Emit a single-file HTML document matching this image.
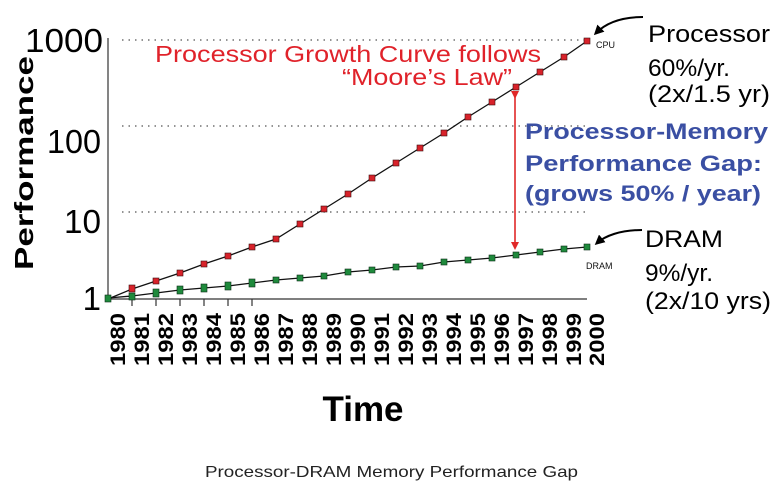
<!DOCTYPE html>
<html><head><meta charset="utf-8"><style>
html,body{margin:0;padding:0;background:#fff;}
svg{display:block;font-family:"Liberation Sans",Arial,sans-serif;}
</style></head><body>
<svg width="781" height="496" viewBox="0 0 781 496" xmlns="http://www.w3.org/2000/svg">
<defs>
<marker id="ah" markerWidth="8" markerHeight="8" refX="6" refY="4" orient="auto" markerUnits="userSpaceOnUse"><path d="M0,0 L8,4 L0,8 Z" fill="#e02828"/></marker>
<marker id="bk" markerWidth="10" markerHeight="10" refX="7" refY="5" orient="auto" markerUnits="userSpaceOnUse"><path d="M0,0 L10,5 L0,10 Z" fill="#000"/></marker>
</defs>
<g stroke="#555" stroke-width="1.2" stroke-dasharray="1.5,5">
<line x1="122" y1="40" x2="587" y2="40"/>
<line x1="122" y1="126" x2="587" y2="126"/>
<line x1="122" y1="212" x2="587" y2="212"/>
</g>
<line x1="108" y1="38" x2="108" y2="299" stroke="#333" stroke-width="1.2"/>
<line x1="108" y1="299" x2="587" y2="299" stroke="#333" stroke-width="1.2"/>
<g stroke="#333" stroke-width="1.2">
<line x1="132" y1="299" x2="132" y2="306"/><line x1="156" y1="299" x2="156" y2="306"/>
<line x1="180" y1="299" x2="180" y2="306"/><line x1="204" y1="299" x2="204" y2="306"/>
<line x1="228" y1="299" x2="228" y2="306"/><line x1="252" y1="299" x2="252" y2="306"/>
</g>
<polyline fill="none" stroke="#111" stroke-width="1.3" points="108,299 132,289 156,281 180,273 204,264 228,256 252,247 276,239 300,224 324,209 348,194 372,178 396,163 420,148 444,133 468,117 492,102 516,87 540,72 564,57 587,41"/>
<polyline fill="none" stroke="#111" stroke-width="1.3" points="108,298 132,296 156,293 180,290 204,288 228,286 252,283 276,280 300,278 324,276 348,272 372,270 396,267 420,266 444,262 468,260 492,258 516,255 540,252 564,249 587,247"/>
<g fill="#d8222a" stroke="#3a1010" stroke-width="0.6">
<rect x="129" y="285" width="6" height="7"/><rect x="153" y="278" width="6" height="6"/><rect x="177" y="270" width="6" height="6"/><rect x="201" y="261" width="6" height="6"/><rect x="225" y="253" width="6" height="6"/><rect x="249" y="244" width="6" height="6"/><rect x="273" y="236" width="6" height="6"/><rect x="297" y="221" width="6" height="6"/><rect x="321" y="206" width="6" height="6"/><rect x="345" y="191" width="6" height="6"/><rect x="369" y="175" width="6" height="6"/><rect x="393" y="160" width="6" height="6"/><rect x="417" y="145" width="6" height="6"/><rect x="441" y="130" width="6" height="6"/><rect x="465" y="114" width="6" height="6"/><rect x="489" y="99" width="6" height="6"/><rect x="513" y="84" width="6" height="6"/><rect x="537" y="69" width="6" height="6"/><rect x="561" y="54" width="6" height="6"/><rect x="584" y="38" width="6" height="6"/>
</g>
<g fill="#1f8a3c" stroke="#0d3018" stroke-width="0.6">
<rect x="105" y="295" width="6" height="7"/><rect x="129" y="293" width="6" height="7"/><rect x="153" y="289" width="6" height="8"/><rect x="177" y="286" width="6" height="8"/><rect x="201" y="284" width="6" height="8"/><rect x="225" y="282" width="6" height="8"/><rect x="249" y="279" width="6" height="8"/><rect x="273" y="277" width="6" height="6"/><rect x="297" y="275" width="6" height="6"/><rect x="321" y="273" width="6" height="6"/><rect x="345" y="269" width="6" height="6"/><rect x="369" y="267" width="6" height="6"/><rect x="393" y="264" width="6" height="6"/><rect x="417" y="263" width="6" height="6"/><rect x="441" y="259" width="6" height="6"/><rect x="465" y="257" width="6" height="6"/><rect x="489" y="255" width="6" height="6"/><rect x="513" y="252" width="6" height="6"/><rect x="537" y="249" width="6" height="6"/><rect x="561" y="246" width="6" height="6"/><rect x="584" y="244" width="6" height="6"/>
</g>
<line x1="515" y1="97" x2="515" y2="248" stroke="#e02828" stroke-width="1.6" marker-start="url(#ah)" marker-end="url(#ah)"/>
<path d="M643,17 C620,17 605,24 596,33" fill="none" stroke="#000" stroke-width="2" marker-end="url(#bk)"/>
<path d="M642,230 C620,230 605,236 597,243" fill="none" stroke="#000" stroke-width="2" marker-end="url(#bk)"/>
<g font-size="33" fill="#000">
<text x="103" y="52" text-anchor="end" textLength="78" lengthAdjust="spacingAndGlyphs">1000</text>
<text x="101" y="153" text-anchor="end" textLength="54" lengthAdjust="spacingAndGlyphs">100</text>
<text x="101" y="233" text-anchor="end" textLength="37" lengthAdjust="spacingAndGlyphs">10</text>
<text x="101" y="310" text-anchor="end">1</text>
</g>
<text transform="translate(33,270) rotate(-90)" font-size="26" font-weight="bold" textLength="214" lengthAdjust="spacingAndGlyphs">Performance</text>
<g font-size="21" font-weight="bold" fill="#000" text-anchor="end">
<text transform="translate(125,313) rotate(-90)" textLength="53" lengthAdjust="spacingAndGlyphs">1980</text>
<text transform="translate(149,313) rotate(-90)" textLength="53" lengthAdjust="spacingAndGlyphs">1981</text>
<text transform="translate(173,313) rotate(-90)" textLength="53" lengthAdjust="spacingAndGlyphs">1982</text>
<text transform="translate(197,313) rotate(-90)" textLength="53" lengthAdjust="spacingAndGlyphs">1983</text>
<text transform="translate(221,313) rotate(-90)" textLength="53" lengthAdjust="spacingAndGlyphs">1984</text>
<text transform="translate(245,313) rotate(-90)" textLength="53" lengthAdjust="spacingAndGlyphs">1985</text>
<text transform="translate(269,313) rotate(-90)" textLength="53" lengthAdjust="spacingAndGlyphs">1986</text>
<text transform="translate(293,313) rotate(-90)" textLength="53" lengthAdjust="spacingAndGlyphs">1987</text>
<text transform="translate(317,313) rotate(-90)" textLength="53" lengthAdjust="spacingAndGlyphs">1988</text>
<text transform="translate(341,313) rotate(-90)" textLength="53" lengthAdjust="spacingAndGlyphs">1989</text>
<text transform="translate(365,313) rotate(-90)" textLength="53" lengthAdjust="spacingAndGlyphs">1990</text>
<text transform="translate(389,313) rotate(-90)" textLength="53" lengthAdjust="spacingAndGlyphs">1991</text>
<text transform="translate(413,313) rotate(-90)" textLength="53" lengthAdjust="spacingAndGlyphs">1992</text>
<text transform="translate(437,313) rotate(-90)" textLength="53" lengthAdjust="spacingAndGlyphs">1993</text>
<text transform="translate(461,313) rotate(-90)" textLength="53" lengthAdjust="spacingAndGlyphs">1994</text>
<text transform="translate(485,313) rotate(-90)" textLength="53" lengthAdjust="spacingAndGlyphs">1995</text>
<text transform="translate(509,313) rotate(-90)" textLength="53" lengthAdjust="spacingAndGlyphs">1996</text>
<text transform="translate(533,313) rotate(-90)" textLength="53" lengthAdjust="spacingAndGlyphs">1997</text>
<text transform="translate(557,313) rotate(-90)" textLength="53" lengthAdjust="spacingAndGlyphs">1998</text>
<text transform="translate(581,313) rotate(-90)" textLength="53" lengthAdjust="spacingAndGlyphs">1999</text>
<text transform="translate(604,313) rotate(-90)" textLength="53" lengthAdjust="spacingAndGlyphs">2000</text>
</g>
<text x="363" y="421" font-size="35" font-weight="bold" text-anchor="middle">Time</text>
<text x="205" y="477" font-size="16" fill="#222" textLength="373" lengthAdjust="spacingAndGlyphs">Processor-DRAM Memory Performance Gap</text>
<g fill="#e0222a" font-size="23">
<text x="155" y="62" textLength="386" lengthAdjust="spacingAndGlyphs">Processor Growth Curve follows</text>
<text x="342" y="85" textLength="170" lengthAdjust="spacingAndGlyphs">“Moore’s Law”</text>
</g>
<g fill="#3a4fa3" font-size="22" font-weight="bold">
<text x="525" y="139" textLength="243" lengthAdjust="spacingAndGlyphs">Processor-Memory</text>
<text x="525" y="171" textLength="237" lengthAdjust="spacingAndGlyphs">Performance Gap:</text>
<text x="525" y="201" textLength="236" lengthAdjust="spacingAndGlyphs">(grows 50% / year)</text>
</g>
<g font-size="24" fill="#000">
<text x="648" y="42" textLength="122" lengthAdjust="spacingAndGlyphs">Processor</text>
<text x="648" y="76" textLength="82" lengthAdjust="spacingAndGlyphs">60%/yr.</text>
<text x="648" y="102" textLength="122" lengthAdjust="spacingAndGlyphs">(2x/1.5 yr)</text>
<text x="645" y="247" textLength="78" lengthAdjust="spacingAndGlyphs">DRAM</text>
<text x="645" y="281" textLength="68" lengthAdjust="spacingAndGlyphs">9%/yr.</text>
<text x="645" y="309" textLength="126" lengthAdjust="spacingAndGlyphs">(2x/10 yrs)</text>
</g>
<text x="596" y="48" font-size="9" fill="#111">CPU</text>
<text x="586" y="269" font-size="9" fill="#111">DRAM</text>
</svg>
</body></html>
